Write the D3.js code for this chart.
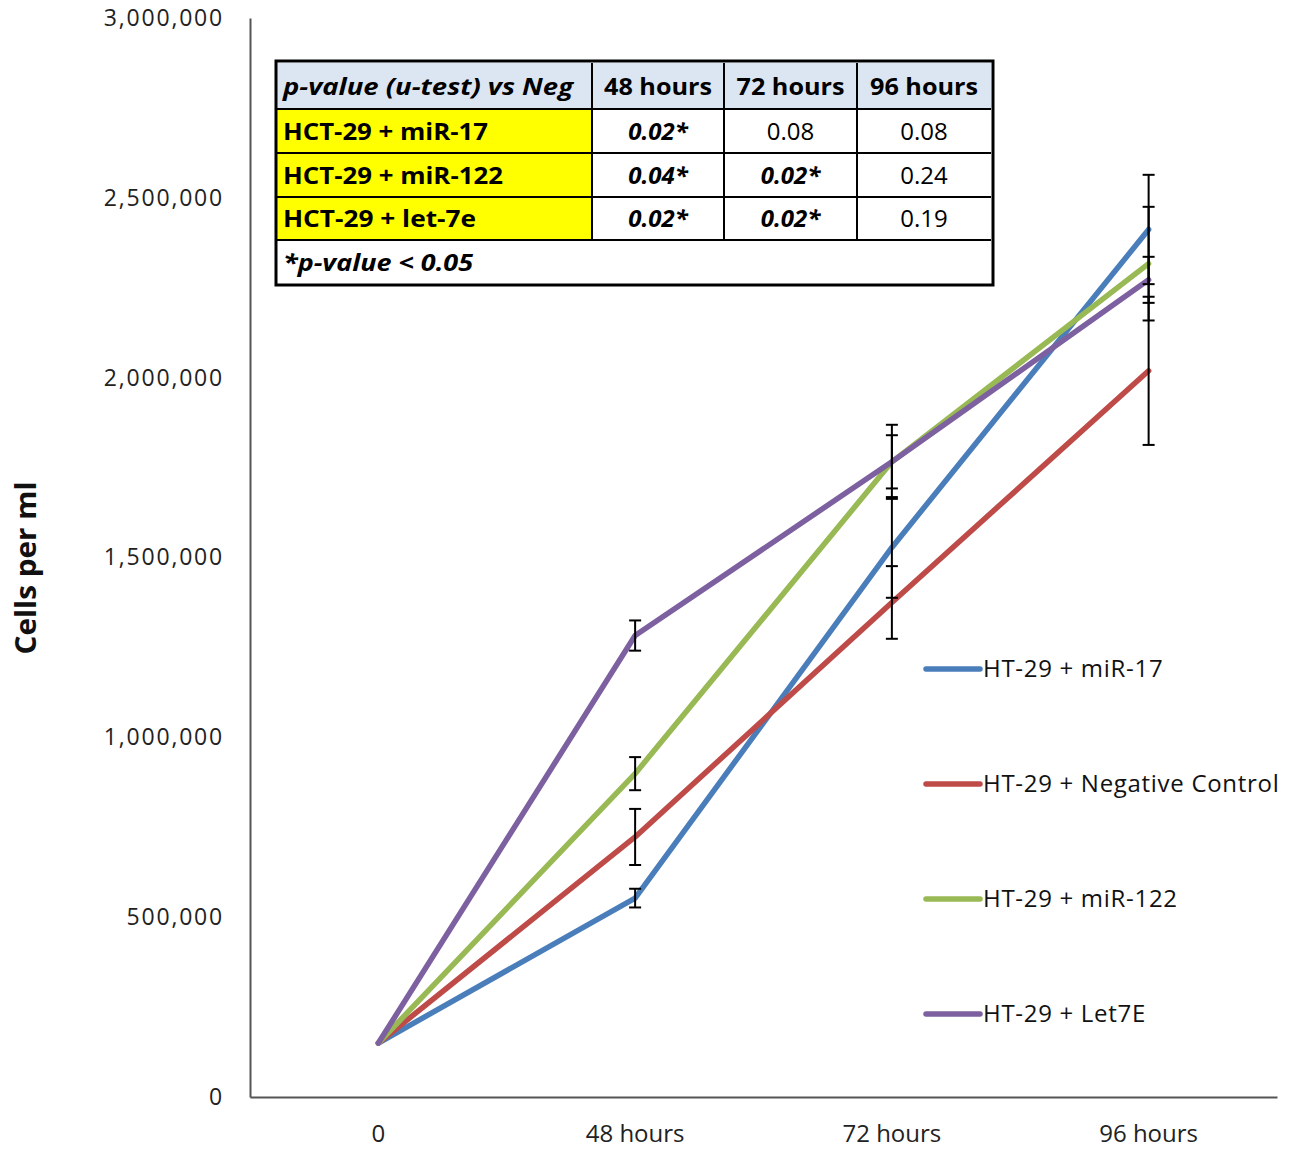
<!DOCTYPE html>
<html>
<head>
<meta charset="utf-8">
<script src="https://cdn.jsdelivr.net/npm/d3@7"></script>
<style>
  body { margin: 0; background: #fff; }
  svg { display: block; }
  text { font-family: "Open Sans", sans-serif; }
</style>
</head>
<body>
<svg></svg>
<script>
(function (d3) {
  'use strict';

  const timepoints = ['0', '48 hours', '72 hours', '96 hours'];

  const seriesNames = ['HT-29 + miR-17', 'HT-29 + Negative Control', 'HT-29 + miR-122', 'HT-29 + Let7E'];
  const seriesColors = ['#4a7ebb', '#be4b48', '#98b954', '#7d60a0'];

  const mir17 = [150000, 553000, 1528000, 2412000];
  const negControl = [150000, 723000, 1375000, 2019000];
  const mir122 = [150000, 899000, 1766000, 2317000];
  const let7e = [150000, 1283000, 1766000, 2272000];

  const mir17Err = [0, 26000, 140000, 152000];
  const negControlErr = [0, 78000, 101000, 206000];
  const mir122Err = [0, 46000, 103000, 158000];
  const let7eErr = [0, 42000, 74000, 64000];

  const yTicks = [0, 500000, 1000000, 1500000, 2000000, 2500000, 3000000];

  // p-value table
  const tableHeader = ['p-value (u-test) vs Neg', '48 hours', '72 hours', '96 hours'];
  const tableRows = ['HCT-29 + miR-17', 'HCT-29 + miR-122', 'HCT-29 + let-7e'];
  const tableValues = [
    ['0.02*', '0.08', '0.08'],
    ['0.04*', '0.02*', '0.24'],
    ['0.02*', '0.02*', '0.19']
  ];
  const tableFootnote = '*p-value < 0.05';

  const series = seriesNames.map((name, i) => ({
    name,
    color: seriesColors[i],
    values: [mir17, negControl, mir122, let7e][i],
    errs: [mir17Err, negControlErr, mir122Err, let7eErr][i]
  }));

  const width = 1290;
  const height = 1151;
  const margin = { top: 18, right: 13, bottom: 54, left: 250 };

  const svg = d3.select('svg')
      .attr('width', width)
      .attr('height', height);

  const x = d3.scaleBand()
      .domain(timepoints)
      .range([margin.left, width - margin.right]);

  const y = d3.scaleLinear()
      .domain([0, 3000000])
      .range([height - margin.bottom, margin.top]);

  const cx = d => x(d) + x.bandwidth() / 2;

  // axes
  const yAxis = svg.append('g')
      .attr('transform', `translate(${margin.left},0)`)
      .call(d3.axisLeft(y).tickValues(yTicks).tickSize(0).tickPadding(26)
        .tickFormat(d3.format(',')));
  yAxis.select('.domain').attr('stroke', '#555').attr('stroke-width', 2);
  yAxis.selectAll('text')
      .attr('fill', '#222')
      .style('font-size', '23px')
      .style('letter-spacing', '1.8px');

  const xAxis = svg.append('g')
      .attr('transform', `translate(0,${height - margin.bottom})`)
      .call(d3.axisBottom(x).tickSize(0).tickPadding(28));
  xAxis.select('.domain').attr('stroke', '#555').attr('stroke-width', 2);
  xAxis.selectAll('text')
      .attr('fill', '#222')
      .style('font-size', '24px');

  svg.append('text')
      .attr('transform', `translate(36,568) rotate(-90)`)
      .attr('text-anchor', 'middle')
      .attr('font-size', 28)
      .attr('font-weight', 'bold')
      .attr('fill', '#111')
      .attr('textLength', 173)
      .attr('lengthAdjust', 'spacingAndGlyphs')
      .text('Cells per ml');

  // lines
  const line = d3.line()
      .x((d, i) => cx(timepoints[i]))
      .y(d => y(d));

  svg.append('g').selectAll('path').data(series)
    .enter().append('path')
      .attr('d', d => line(d.values))
      .attr('fill', 'none')
      .attr('stroke', d => d.color)
      .attr('stroke-width', 5.5)
      .attr('stroke-linecap', 'round')
      .attr('stroke-linejoin', 'round');

  // error bars
  const errData = [];
  series.forEach(s => s.values.forEach((v, i) => {
    if (s.errs[i] > 0) errData.push({ t: timepoints[i], v, e: s.errs[i] });
  }));

  const eb = svg.append('g').attr('stroke', '#000').attr('stroke-width', 2);
  errData.forEach(d => {
    const px = cx(d.t);
    eb.append('line').attr('x1', px).attr('x2', px)
        .attr('y1', y(d.v + d.e)).attr('y2', y(d.v - d.e));
    [d.v + d.e, d.v - d.e].forEach(val => {
      eb.append('line').attr('x1', px - 6).attr('x2', px + 6)
          .attr('y1', y(val)).attr('y2', y(val));
    });
  });

  // legend
  const legend = svg.append('g').selectAll('g').data(series)
    .enter().append('g')
      .attr('transform', (d, i) => `translate(926,${669 + i * 115})`);
  legend.append('line')
      .attr('x1', 0).attr('x2', 54)
      .attr('stroke', d => d.color)
      .attr('stroke-width', 5.5)
      .attr('stroke-linecap', 'round');
  legend.append('text')
      .attr('x', 57)
      .attr('dy', '0.35em')
      .attr('font-size', 24)
      .attr('letter-spacing', 0.7)
      .attr('fill', '#111')
      .text(d => d.name);

  // table
  const colX = [276, 592, 724, 857, 991];
  const rowY = [63, 109, 153, 197, 240, 285];
  const tbl = svg.append('g');

  tbl.append('rect')
      .attr('x', colX[0]).attr('y', rowY[0])
      .attr('width', colX[4] - colX[0]).attr('height', rowY[1] - rowY[0])
      .attr('fill', '#dce6f2');
  tableRows.forEach((r, i) => {
    tbl.append('rect')
        .attr('x', colX[0]).attr('y', rowY[i + 1])
        .attr('width', colX[1] - colX[0]).attr('height', rowY[i + 2] - rowY[i + 1])
        .attr('fill', '#ffff00');
  });

  // grid lines
  const gl = tbl.append('g').attr('stroke', '#000').attr('stroke-width', 2);
  for (let i = 1; i <= 4; i++) {
    gl.append('line').attr('x1', colX[0]).attr('x2', colX[4])
        .attr('y1', rowY[i]).attr('y2', rowY[i]);
  }
  for (let j = 1; j <= 3; j++) {
    gl.append('line').attr('x1', colX[j]).attr('x2', colX[j])
        .attr('y1', rowY[0]).attr('y2', rowY[4]);
  }
  tbl.append('rect')
      .attr('x', colX[0]).attr('y', rowY[0] - 2)
      .attr('width', colX[4] - colX[0] + 2).attr('height', rowY[5] - rowY[0] + 2)
      .attr('fill', 'none')
      .attr('stroke', '#000')
      .attr('stroke-width', 3);

  const cellText = (txt, col, row, opts) => {
    const xm = opts.anchor === 'start' ? colX[col] + 7 : (colX[col] + colX[col + 1]) / 2;
    tbl.append('text')
        .attr('x', xm)
        .attr('y', (rowY[row] + rowY[row + 1]) / 2)
        .attr('dy', '0.36em')
        .attr('text-anchor', opts.anchor || 'middle')
        .attr('font-size', 24)
        .attr('font-weight', opts.bold ? 'bold' : 'normal')
        .attr('font-style', opts.italic ? 'italic' : 'normal')
        .attr('fill', '#000')
        .attr('textLength', opts.len || null)
        .attr('lengthAdjust', 'spacingAndGlyphs')
        .text(txt);
  };

  cellText(tableHeader[0], 0, 0, { anchor: 'start', bold: true, italic: true, len: 290 });
  tableHeader.slice(1).forEach((h, j) => cellText(h, j + 1, 0, { bold: true, len: 108 }));
  tableRows.forEach((r, i) => {
    cellText(r, 0, i + 1, { anchor: 'start', bold: true, len: [205, 220, 193][i] });
    tableValues[i].forEach((v, j) => {
      const sig = v.indexOf('*') >= 0;
      cellText(v, j + 1, i + 1, { bold: sig, italic: sig });
    });
  });
  tbl.append('text')
      .attr('x', colX[0] + 7)
      .attr('y', (rowY[4] + rowY[5]) / 2)
      .attr('dy', '0.36em')
      .attr('font-size', 24)
      .attr('font-weight', 'bold')
      .attr('font-style', 'italic')
      .attr('textLength', 190)
      .attr('lengthAdjust', 'spacingAndGlyphs')
      .text(tableFootnote);

}(d3));
</script>
</body>
</html>
